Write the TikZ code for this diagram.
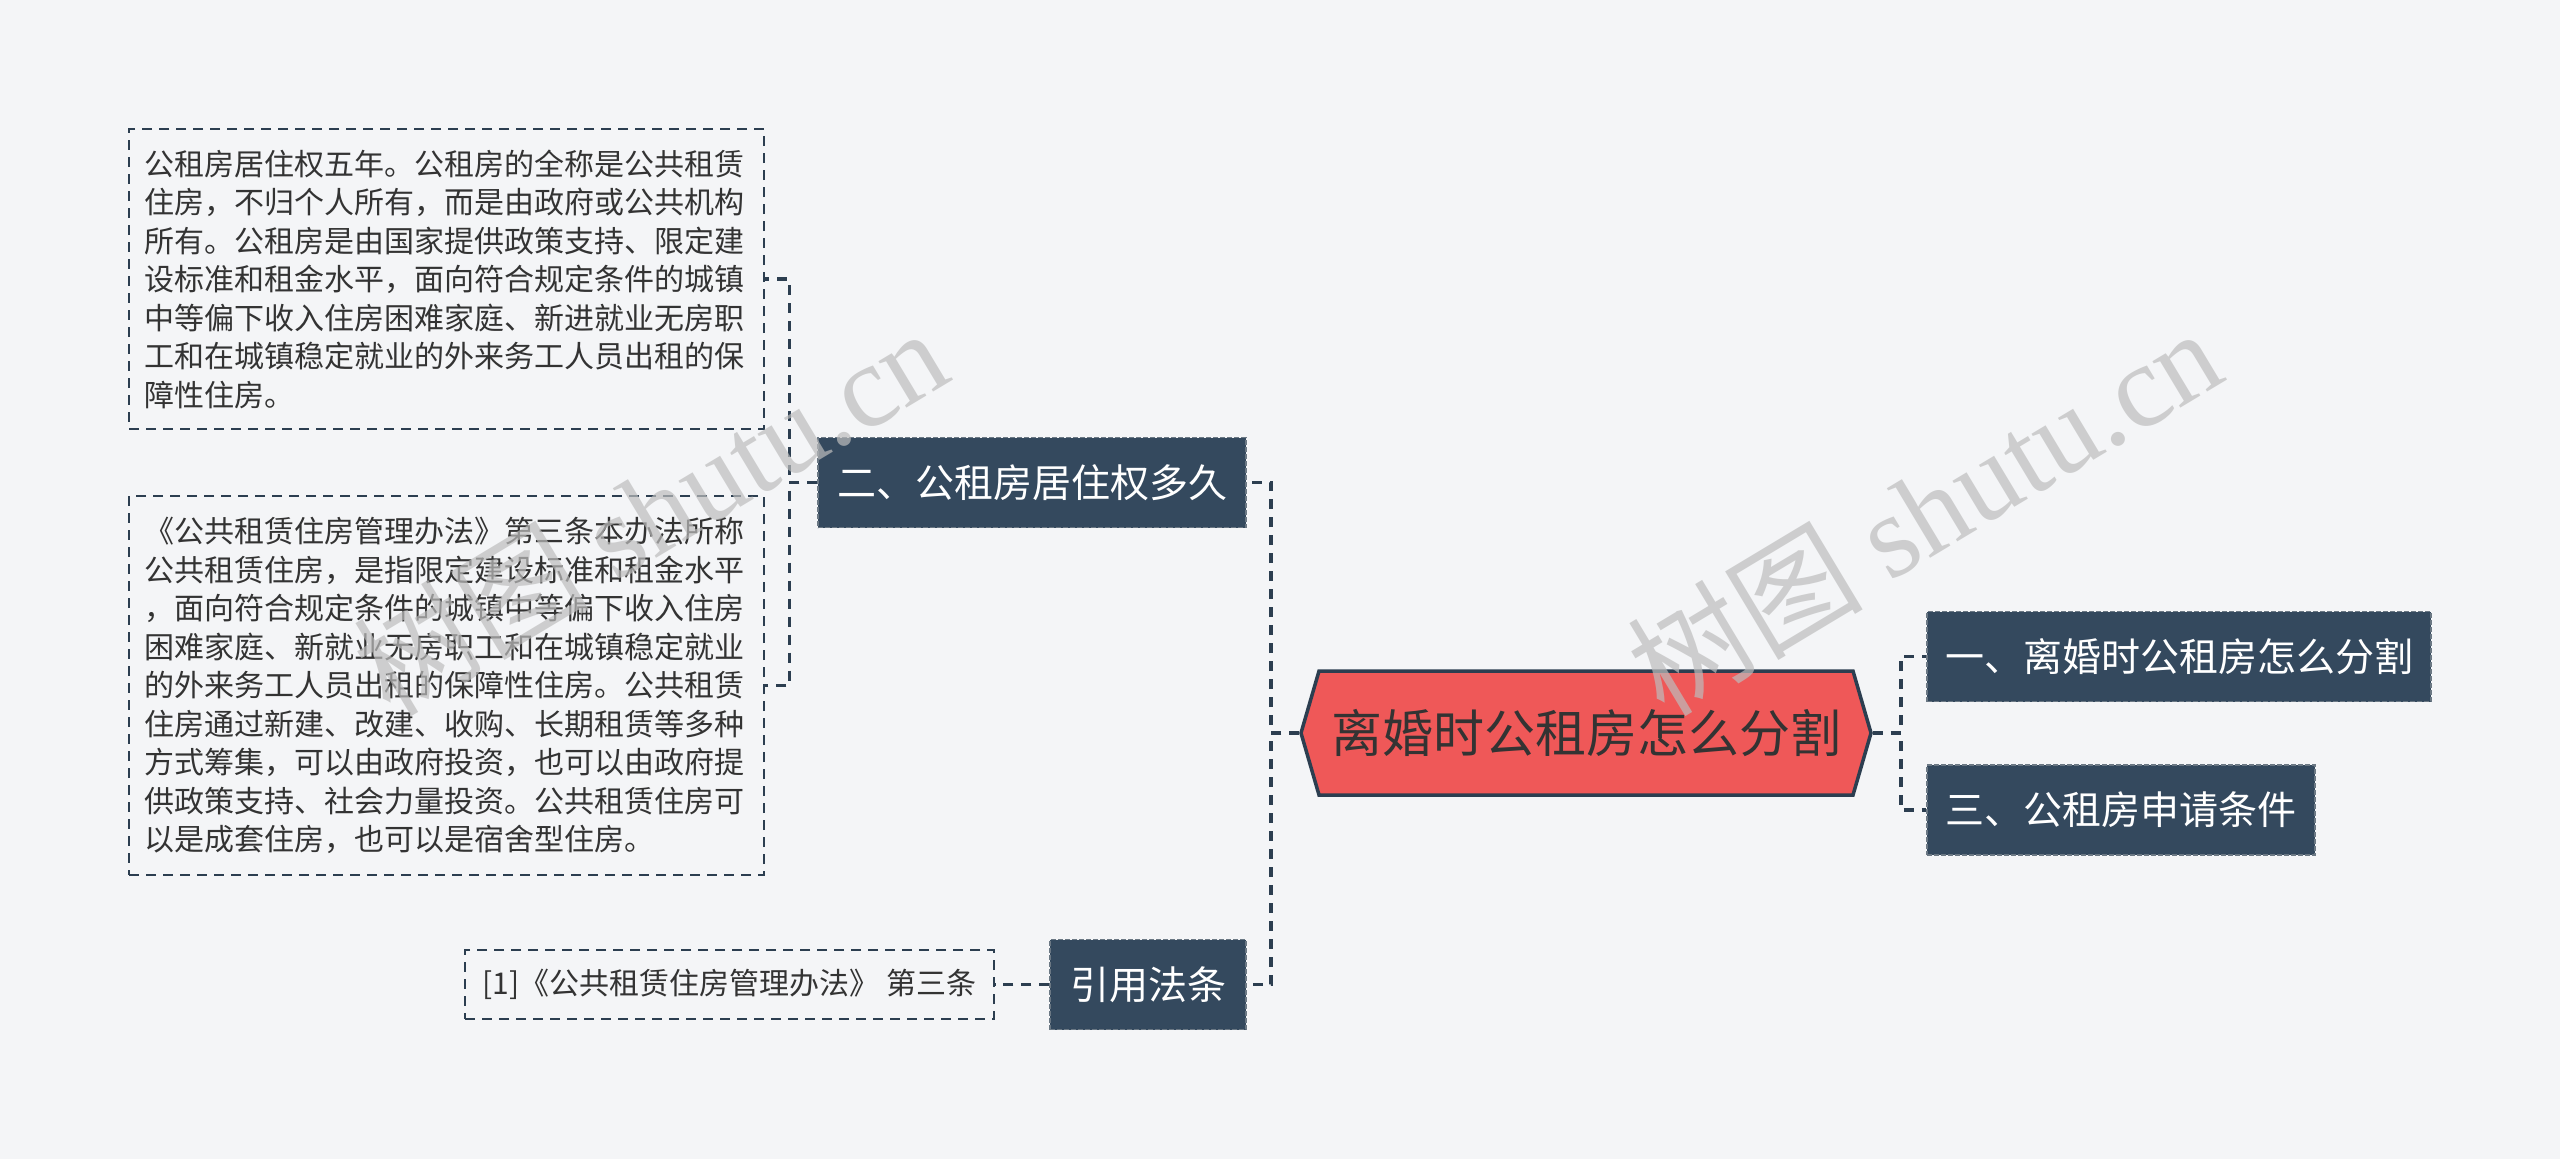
\documentclass[tikz,border=0pt]{standalone}
\usepackage{fontspec}
\setmainfont{Noto Sans CJK SC}
\newfontfamily\wmlatin{Liberation Serif}
\usetikzlibrary{shapes.symbols}
\definecolor{bg}{HTML}{F4F5F7}
\definecolor{navy}{HTML}{34495E}
\definecolor{edgec}{HTML}{2C3E50}
\definecolor{rootred}{HTML}{EF5858}
\definecolor{txt}{HTML}{333333}
\definecolor{wm}{HTML}{BDBDBD}
\tikzset{
  branch/.style={fill=navy, draw=edgec!70!white, dash pattern=on 5pt off 2pt, line width=1.5pt,
    text=white, font=\fontsize{39}{39}\selectfont, inner sep=0pt, minimum height=90pt},
  leaf/.style={draw=edgec, dash pattern=on 10pt off 7pt, line width=2pt, text=txt,
    font=\fontsize{30}{38.5}\selectfont, align=left, inner xsep=15pt, inner ysep=0pt,
    text width=605pt},
  conn/.style={draw=edgec, line width=3.5pt, dash pattern=on 10pt off 8pt},
  rootnode/.style={signal, signal to=west and east, signal pointer angle=147.6,
    fill=rootred, draw=edgec, line width=3.5pt, text=txt,
    font=\fontsize{51}{51}\selectfont, inner sep=0pt, minimum width=570pt, minimum height=124pt},
  wmark/.style={text=wm, opacity=.7, rotate=31, font=\fontsize{118}{118}\selectfont}
}
\begin{document}
\begin{tikzpicture}[x=1pt,y=-1pt]
\useasboundingbox (0,0) rectangle (2560,1159);
\fill[bg] (0,0) rectangle (2560,1159);

\node[rootnode] (root) at (1586,733) {离婚时公租房怎么分割};

\node[branch, minimum width=504pt] (b1) at (2179,656.5) {一、离婚时公租房怎么分割};
\node[branch, minimum width=388pt] (b3) at (2121,810) {三、公租房申请条件};
\node[branch, minimum width=428pt] (b2) at (1032,482.5) {二、公租房居住权多久};
\node[branch, minimum width=196pt] (b4) at (1148,984.5) {引用法条};

\node[leaf, minimum height=300pt] (l1) at (446.5,279) {公租房居住权五年。公租房的全称是公共租赁\\住房，不归个人所有，而是由政府或公共机构\\所有。公租房是由国家提供政策支持、限定建\\设标准和租金水平，面向符合规定条件的城镇\\中等偏下收入住房困难家庭、新进就业无房职\\工和在城镇稳定就业的外来务工人员出租的保\\障性住房。};
\node[leaf, minimum height=379pt] (l2) at (446.5,685.5) {《公共租赁住房管理办法》第三条本办法所称\\公共租赁住房，是指限定建设标准和租金水平\\，面向符合规定条件的城镇中等偏下收入住房\\困难家庭、新就业无房职工和在城镇稳定就业\\的外来务工人员出租的保障性住房。公共租赁\\住房通过新建、改建、收购、长期租赁等多种\\方式筹集，可以由政府投资，也可以由政府提\\供政策支持、社会力量投资。公共租赁住房可\\以是成套住房，也可以是宿舍型住房。};
\node[leaf, text width=, minimum width=529pt, minimum height=69pt, inner xsep=0pt] (l3) at (729.5,984.5) {[1]《公共租赁住房管理办法》 第三条};

\draw[conn] (root.east) -- ++(28,0) |- (b1.west);
\draw[conn] (root.east) -- ++(28,0) |- (b3.west);
\draw[conn] (root.west) -- ++(-28,0) |- (b2.east);
\draw[conn] (root.west) -- ++(-28,0) |- (b4.east);
\draw[conn] (b2.west) -- ++(-28,0) |- (l1.east);
\draw[conn] (b2.west) -- ++(-28,0) |- (l2.east);
\draw[conn] (b4.west) -- (l3.east);

\node[wmark] (wm1) at (650,510) {树图 {\wmlatin shutu.cn}};
\node[wmark] (wm2) at (1924,510) {树图 {\wmlatin shutu.cn}};
\end{tikzpicture}
\end{document}
